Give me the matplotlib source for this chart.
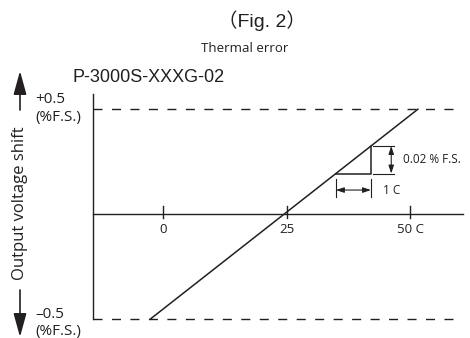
import numpy as np
import matplotlib.pyplot as plt
from matplotlib.patches import FancyArrowPatch

# data (temperature in C, shift in %F.S.)
tick_temps = [0, 25, 50]
tick_labels = ["0", "25", "50 C"]
line_temps = [-2.6, 51.6]
line_shift = [-0.5, 0.5]
limit_shift = [0.5, -0.5]
axis_temps = [-14.2, 60.7]
axis_top = 0.571
dash_end = 59.7
tri_temps = [35.0, 42.1]

W, H = 470, 338
# pixel mapping of the drawing: x = x0 + kx*T, y = y0 - ky*v
x0, kx = 163.0, 4.94
y0, ky = 214.2, 210.0

fig = plt.figure(figsize=(W / 100, H / 100), dpi=100)
ax = fig.add_axes([0, 0, 1, 1])
ax.set_xlim(-x0 / kx, (W - x0) / kx)
ax.set_ylim((y0 - H) / ky, y0 / ky)
ax.axis("off")

def fx(px):
    return px / W

def fy(py):
    return 1 - py / H

lw = 1.0
k = "#231f20"

# axes lines
ax.plot([axis_temps[0]] * 2, [axis_top, limit_shift[1]], color=k, lw=lw)
ax.plot(axis_temps, [0, 0], color=k, lw=lw)
for v in limit_shift:
    ax.plot([axis_temps[0], dash_end], [v, v], color=k, lw=lw,
            ls=(0, (6.5, 6.8)))

# ticks
tick_h = (0.040, -0.017)
for t, lab in zip(tick_temps, tick_labels):
    ax.plot([t, t], tick_h, color=k, lw=lw)
    ax.text(t, -0.071, lab, ha="center", va="center", fontsize=9.5,
            family="Open Sans", color=k)

# characteristic line
ax.plot(line_temps, line_shift, color=k, lw=1.1)

# slope triangle
tri_v = np.interp(tri_temps, line_temps, line_shift)
ax.plot([tri_temps[0], tri_temps[1], tri_temps[1]],
        [tri_v[0], tri_v[0], tri_v[1]], color=k, lw=1.1)

dim_arrow = dict(arrowstyle="<|-|>,head_length=0.6,head_width=0.2",
                 color=k, lw=0.8, shrinkA=0, shrinkB=0, mutation_scale=8)

# vertical dimension
for v in tri_v:
    ax.plot([42.6, 46.8], [v, v], color=k, lw=0.8)
ax.annotate("", xy=(46.2, tri_v[1]), xytext=(46.2, tri_v[0]),
            arrowprops=dim_arrow)
ax.text(48.6, tri_v.mean(), "0.02 % F.S.", ha="left", va="center",
        fontsize=8.5, family="Open Sans", color=k)

# horizontal dimension
for t in tri_temps:
    ax.plot([t, t], [0.168, 0.083], color=k, lw=0.8)
ax.annotate("", xy=(tri_temps[1], 0.115), xytext=(tri_temps[0], 0.115),
            arrowprops=dim_arrow)
ax.text(44.5, 0.115, "1 C", ha="left", va="center", fontsize=8.5,
        family="Open Sans", color=k)

# titles
fig.text(fx(262), fy(21), "（Fig. 2）", ha="center", va="center",
         fontsize=14, family=["Liberation Sans", "Noto Sans CJK JP"], color=k)
fig.text(fx(245), fy(49), "Thermal error", ha="center", va="center",
         fontsize=9.5, family="Open Sans", color=k)
fig.text(fx(73), fy(77), "P-3000S-XXXG-02", ha="left", va="center",
         fontsize=13, family="Liberation Sans", color=k)

# range labels
for py, s in [(100, "+0.5"), (117, "(%F.S.)"), (314, "–0.5"), (331, "(%F.S.)")]:
    fig.text(fx(35), fy(py), s, ha="left", va="center", fontsize=11,
             family="Open Sans", color=k)

# y label with arrows
fig.text(fx(20), fy(203), "Output voltage shift", rotation=90, ha="center",
         va="center", fontsize=12, family="Open Sans", color=k)
arrow = dict(arrowstyle="-|>,head_length=0.8,head_width=0.22", color=k,
             lw=1.2, shrinkA=0, shrinkB=0, mutation_scale=18)
for start, end in [(110, 71), (290, 337)]:
    fig.add_artist(FancyArrowPatch((fx(20), fy(start)), (fx(20), fy(end)),
                                   transform=fig.transFigure, **arrow))

fig.savefig("out.png", dpi=100)
